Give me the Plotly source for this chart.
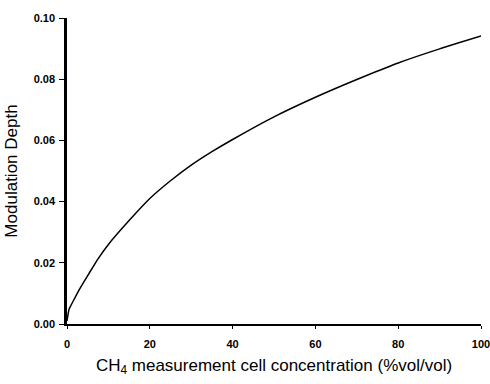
import plotly.graph_objects as go

# Modulation depth versus CH4 concentration in the measurement cell
concentration = [0, 0.5, 1, 2, 3, 5, 7.5, 10, 15, 20, 25, 30, 35, 40, 50, 60, 70, 80, 90, 100]
modulation_depth = [0.001, 0.0048, 0.0062, 0.0088, 0.0113, 0.0158, 0.0213, 0.026, 0.0338, 0.041,
                    0.0468, 0.0519, 0.0563, 0.0603, 0.0677, 0.0741, 0.0799, 0.0853, 0.0899, 0.0941]

x_ticks = [0, 20, 40, 60, 80, 100]
y_ticks = [0.00, 0.02, 0.04, 0.06, 0.08, 0.10]

font_family = "Liberation Sans, Arial, sans-serif"

fig = go.Figure()
fig.add_trace(go.Scatter(
    x=concentration,
    y=modulation_depth,
    mode="lines",
    line=dict(color="black", width=1.5, shape="spline", smoothing=0.6),
    hoverinfo="skip",
    showlegend=False,
))

fig.update_layout(
    width=490,
    height=384,
    margin=dict(l=67, r=9, t=18, b=60),
    paper_bgcolor="white",
    plot_bgcolor="white",
    font=dict(family=font_family, color="black"),
    xaxis=dict(
        range=[0, 100],
        tickvals=x_ticks,
        ticktext=[str(v) for v in x_ticks],
        automargin=False,
        showgrid=False,
        zeroline=False,
        showline=True,
        linecolor="black",
        linewidth=1.5,
        ticks="outside",
        ticklen=3,
        tickwidth=1,
        tickcolor="black",
        ticklabelstandoff=6,
        ticklabeloverflow="allow",
        tickfont=dict(size=11, weight="bold", family=font_family),
        title=dict(
            text="CH<sub>4</sub> measurement cell concentration (%vol/vol)",
            font=dict(size=17, family=font_family),
            standoff=10,
        ),
    ),
    yaxis=dict(
        range=[0, 0.10],
        tickvals=y_ticks,
        tickformat=".2f",
        automargin=False,
        showgrid=False,
        zeroline=False,
        showline=True,
        linecolor="black",
        linewidth=2.5,
        ticks="outside",
        ticklen=5,
        tickwidth=1,
        tickcolor="black",
        ticklabelstandoff=2,
        tickfont=dict(size=11, weight="bold", family=font_family),
        title=dict(
            text="Modulation Depth",
            font=dict(size=17, family=font_family),
            standoff=12,
        ),
    ),
)

fig.write_html("out.html")
